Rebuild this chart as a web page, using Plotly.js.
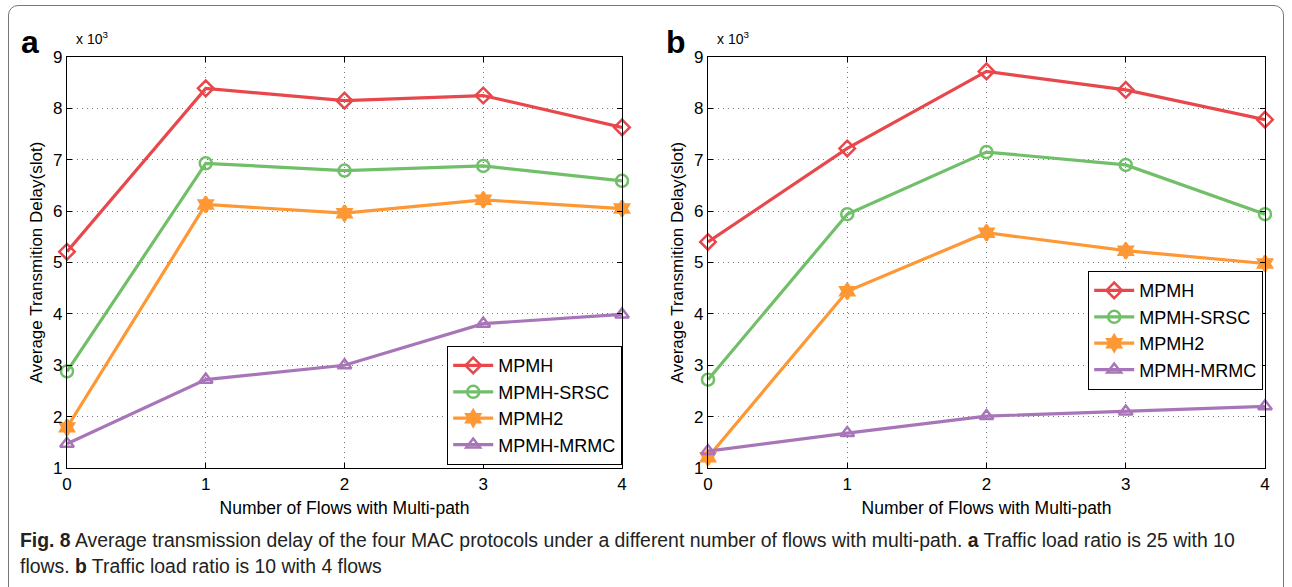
<!DOCTYPE html>
<html>
<head>
<meta charset="utf-8">
<script src="https://cdn.plot.ly/plotly-3.0.1.min.js"></script>
<style>
  html, body { margin: 0; padding: 0; background: #fff; }
  #wrap { position: relative; width: 1292px; height: 587px; }
  #frame { position: absolute; left: 8px; top: 5px; width: 1276px; height: 600px;
           border: 1.5px solid #777; border-radius: 10px; box-sizing: border-box; pointer-events: none; z-index: 5; }
  #chart { position: absolute; left: 0; top: 0; width: 1292px; height: 587px; }
</style>
</head>
<body>
<div id="wrap">
  <div id="chart"></div>
  <div id="frame"></div>
</div>
<script>
// Shared x categories: number of flows with multi-path
const flows = [0, 1, 2, 3, 4];
const seriesNames = ["MPMH", "MPMH-SRSC", "MPMH2", "MPMH-MRMC"];

// Panel a values (x 10^3 slots)
const a_MPMH = [5.21, 8.39, 8.15, 8.25, 7.63];
const a_SRSC = [2.88, 6.93, 6.79, 6.88, 6.59];
const a_MPMH2 = [1.79, 6.13, 5.96, 6.22, 6.05];
const a_MRMC = [1.47, 2.72, 3.0, 3.81, 3.99];

// Panel b values (x 10^3 slots)
const b_MPMH = [5.40, 7.22, 8.72, 8.36, 7.78];
const b_SRSC = [2.72, 5.94, 7.15, 6.90, 5.94];
const b_MPMH2 = [1.21, 4.44, 5.58, 5.23, 4.98];
const b_MRMC = [1.33, 1.68, 2.01, 2.10, 2.20];

const yTicks = [1, 2, 3, 4, 5, 6, 7, 8, 9];
const xTitle = "Number of Flows with Multi-path";
const yTitle = "Average Transmition Delay(slot)";

const colors = ["#e8474c", "#72bf6a", "#fe9835", "#a876b8"];
const symbols = ["diamond-open", "circle-open", "hexagram", "triangle-up-open"];

function mk(ys, i, xa, ya, lg) {
  return {
    x: flows, y: ys, name: seriesNames[i], type: "scatter", mode: "lines+markers",
    xaxis: xa, yaxis: ya, legend: lg, cliponaxis: false,
    line: { color: colors[i], width: 3.2 },
    marker: { symbol: symbols[i], size: 12, color: colors[i],
              line: { color: colors[i], width: 2.5 } }
  };
}

const data = [
  mk(a_MPMH, 0, "x", "y", "legend"), mk(a_SRSC, 1, "x", "y", "legend"),
  mk(a_MPMH2, 2, "x", "y", "legend"), mk(a_MRMC, 3, "x", "y", "legend"),
  mk(b_MPMH, 0, "x2", "y2", "legend2"), mk(b_SRSC, 1, "x2", "y2", "legend2"),
  mk(b_MPMH2, 2, "x2", "y2", "legend2"), mk(b_MRMC, 3, "x2", "y2", "legend2")
];

const W = 1292, H = 587;
const yDom = [1 - 468 / H, 1 - 57 / H];
const tickFont = { family: "Liberation Sans, Arial, sans-serif", size: 17, color: "#000" };
const titleFont = { family: "Liberation Sans, Arial, sans-serif", size: 17.5, color: "#000" };

function xax(dom, anchor) {
  return {
    domain: dom, anchor: anchor, range: [0, 4], tickvals: flows, ticktext: flows.map(String),
    showline: true, linecolor: "#000", linewidth: 1.2, mirror: "ticks",
    ticks: "inside", ticklen: 5, tickcolor: "#000",
    showgrid: true, gridcolor: "#777", griddash: "1px,4px", gridwidth: 1,
    zeroline: false, tickfont: tickFont,
    title: { text: xTitle, font: titleFont, standoff: 9 }
  };
}
function yax(anchor) {
  return {
    domain: yDom, anchor: anchor, range: [1, 9], tickvals: yTicks,
    showline: true, linecolor: "#000", linewidth: 1.2, mirror: "ticks",
    ticks: "inside", ticklen: 5, tickcolor: "#000",
    showgrid: true, gridcolor: "#777", griddash: "1px,4px", gridwidth: 1,
    zeroline: false, tickfont: tickFont,
    title: { text: yTitle, font: { family: "Liberation Sans, Arial, sans-serif", size: 17, color: "#000" }, standoff: 6 }
  };
}

function legend(xr, yb) {
  return {
    x: xr / W, xanchor: "right", y: 1 - yb / H, yanchor: "bottom",
    bordercolor: "#000", borderwidth: 1.2, bgcolor: "#fff",
    font: { family: "Liberation Sans, Arial, sans-serif", size: 18, color: "#000" },
    tracegroupgap: 0, itemwidth: 40
  };
}

const capFont = { family: "Liberation Sans, Arial, sans-serif", size: 19.4, color: "#222" };

const layout = {
  width: W, height: H,
  margin: { l: 0, r: 0, t: 0, b: 0 },
  paper_bgcolor: "#fff", plot_bgcolor: "#fff",
  showlegend: true,
  xaxis: xax([67 / W, 622 / W], "y"),
  yaxis: yax("x"),
  xaxis2: xax([708 / W, 1265 / W], "y2"),
  yaxis2: yax("x2"),
  legend: legend(622, 465),
  legend2: legend(1263, 390),
  annotations: [
    { text: "<b>a</b>", x: 30 / W, y: 1 - 42 / H, xref: "paper", yref: "paper", xanchor: "center", yanchor: "middle",
      showarrow: false, font: { family: "Liberation Sans, Arial, sans-serif", size: 32, color: "#000" } },
    { text: "<b>b</b>", x: 676 / W, y: 1 - 42 / H, xref: "paper", yref: "paper", xanchor: "center", yanchor: "middle",
      showarrow: false, font: { family: "Liberation Sans, Arial, sans-serif", size: 32, color: "#000" } },
    { text: "x 10<sup>3</sup>", x: 74 / W, y: 1 - 38 / H, xref: "paper", yref: "paper", xanchor: "left", yanchor: "middle",
      showarrow: false, font: { family: "Liberation Sans, Arial, sans-serif", size: 14, color: "#000" } },
    { text: "x 10<sup>3</sup>", x: 715 / W, y: 1 - 38 / H, xref: "paper", yref: "paper", xanchor: "left", yanchor: "middle",
      showarrow: false, font: { family: "Liberation Sans, Arial, sans-serif", size: 14, color: "#000" } },
    { text: "<b>Fig. 8</b> Average transmission delay of the four MAC protocols under a different number of flows with multi-path. <b>a</b> Traffic load ratio is 25 with 10",
      x: 18 / W, y: 1 - 540 / H, xref: "paper", yref: "paper", xanchor: "left", yanchor: "middle",
      showarrow: false, font: capFont },
    { text: "flows. <b>b</b> Traffic load ratio is 10 with 4 flows",
      x: 18 / W, y: 1 - 566 / H, xref: "paper", yref: "paper", xanchor: "left", yanchor: "middle",
      showarrow: false, font: capFont }
  ]
};

Plotly.newPlot("chart", data, layout, { displayModeBar: false, staticPlot: true });
</script>
</body>
</html>
